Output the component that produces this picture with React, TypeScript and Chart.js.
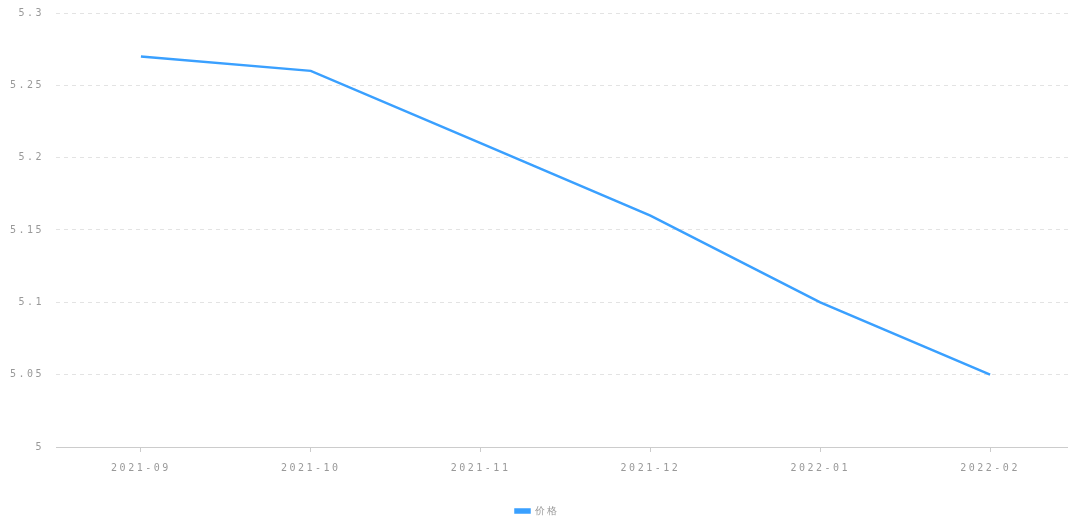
import React, { useEffect, useRef } from "react";
import { Chart, registerables } from "chart.js";

Chart.register(...registerables);

const categories = ["2021-09", "2021-10", "2021-11", "2021-12", "2022-01", "2022-02"];
const prices = [5.27, 5.26, 5.21, 5.16, 5.1, 5.05];
const seriesName = "价格";
const yMin = 5;
const yMax = 5.3;
const yStep = 0.05;

const spacingPlugin = {
  id: "letterSpacing",
  beforeUpdate(chart: any) {
    (chart.ctx as any).letterSpacing = "2.5px";
  },
  beforeLayout(chart: any) {
    (chart.ctx as any).letterSpacing = "2.5px";
  },
  beforeDraw(chart: any) {
    (chart.ctx as any).letterSpacing = "2.5px";
  },
};

export default function App() {
  const ref = useRef<HTMLCanvasElement | null>(null);
  useEffect(() => {
    document.body.style.margin = "0";
    document.body.style.overflow = "hidden";
    const font = { family: "'DejaVu Sans Mono', monospace", size: 10 };
    const chart = new Chart(ref.current!, {
      type: "line",
      data: {
        labels: categories,
        datasets: [
          {
            label: seriesName,
            data: prices,
            borderColor: "#3AA0FF",
            backgroundColor: "#3AA0FF",
            borderWidth: 2.5,
            pointRadius: 0,
            tension: 0,
          },
        ],
      },
      options: {
        animation: false,
        responsive: false,
        maintainAspectRatio: false,
        layout: { padding: { top: 13, right: 0, left: 0, bottom: -9 } },
        plugins: {
          legend: {
            position: "bottom",
            labels: {
              boxWidth: 14,
              boxHeight: 3,
              color: "#999",
              font,
              padding: 2,
            },
          },
          tooltip: { enabled: false },
        },
        scales: {
          x: {
            offset: true,
            afterFit(scale: any) {
              scale.height = 57;
            },
            grid: {
              display: true,
              drawOnChartArea: false,
              drawTicks: true,
              tickLength: 5,
              color: "#ccc",
            },
            border: { display: true, color: "#ccc" },
            ticks: { color: "#999", font, padding: 10, maxRotation: 0 },
          },
          y: {
            min: yMin,
            max: yMax,
            afterFit(scale: any) {
              scale.width = 56;
              scale.paddingTop = 0;
              scale.paddingBottom = 0;
            },
            grid: {
              color: "#e3e3e3",
              drawTicks: false,
            },
            border: { display: false, dash: [4, 4] },
            ticks: {
              stepSize: yStep,
              color: "#999",
              font,
              padding: 12,
              callback: (v: any) => String(Math.round(Number(v) * 100) / 100),
            },
          },
        },
      },
      plugins: [spacingPlugin],
    });
    return () => chart.destroy();
  }, []);
  return (
    <div style={{ position: "absolute", left: 0, top: 0, width: 1075, height: 517 }}>
      <canvas ref={ref} width={1075} height={517} style={{ width: 1075, height: 517 }} />
    </div>
  );
}
